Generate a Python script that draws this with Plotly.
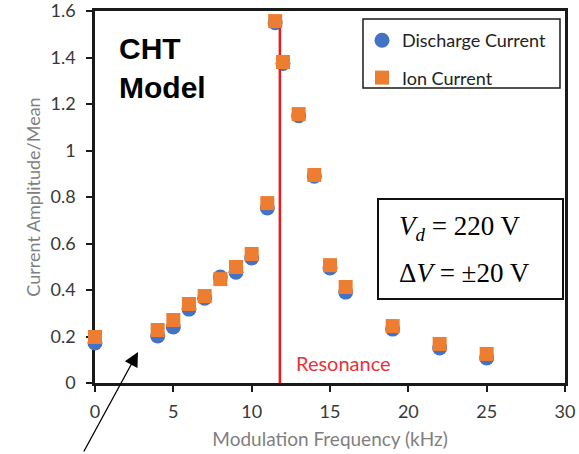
import plotly.graph_objects as go

# Data
freq_khz = [0, 4, 5, 6, 7, 8, 9, 10, 11, 11.5, 12, 13, 14, 15, 16, 19, 22, 25]
discharge_current = [0.172, 0.202, 0.241, 0.318, 0.365, 0.456, 0.477, 0.538, 0.753,
                     1.55, 1.375, 1.15, 0.89, 0.495, 0.391, 0.232, 0.151, 0.108]
ion_current = [0.198, 0.228, 0.271, 0.34, 0.374, 0.447, 0.499, 0.555, 0.774,
               1.557, 1.381, 1.157, 0.895, 0.507, 0.413, 0.245, 0.168, 0.125]
resonance_khz = 11.8
resonance_top = 1.56
x_ticks = [0, 5, 10, 15, 20, 25, 30]
y_ticks = [0, 0.2, 0.4, 0.6, 0.8, 1.0, 1.2, 1.4, 1.6]
y_tick_labels = ["0", "0.2", "0.4", "0.6", "0.8", "1", "1.2", "1.4", "1.6"]

W, H = 579, 454
L, R, T, B = 95, 14, 11, 71
PW, PH = W - L - R, H - T - B

def px(xp):
    return (xp - L) / PW

def py(yp):
    return (H - B - yp) / PH

fig = go.Figure()
fig.add_trace(go.Scatter(
    x=freq_khz, y=discharge_current, mode="markers", name="Discharge Current",
    marker=dict(symbol="circle", size=15, color="#4472C4"),
    cliponaxis=False, legendgroup="a"))
fig.add_trace(go.Scatter(
    x=[resonance_khz, resonance_khz], y=[0, resonance_top], mode="lines",
    line=dict(color="#F01818", width=2.5), showlegend=False, cliponaxis=False))
fig.add_trace(go.Scatter(
    x=freq_khz, y=ion_current, mode="markers", name="Ion Current",
    marker=dict(symbol="square", size=14, color="#ED7D31"),
    cliponaxis=False, legendgroup="b"))

axis_common = dict(showline=True, linecolor="#1a1a1a", linewidth=2.5, mirror=True,
                   ticks="outside", ticklen=6, tickwidth=2, tickcolor="#1a1a1a",
                   showgrid=False, zeroline=False, layer="below traces",
                   automargin=False, ticklabeloverflow="allow",
                   tickfont=dict(family="Lato", size=18, color="#383838"))

fig.update_layout(
    width=W, height=H,
    margin=dict(l=L, r=R, t=T, b=B),
    paper_bgcolor="white", plot_bgcolor="white",
    xaxis=dict(range=[0, 30], tickvals=x_ticks, ticklabelstandoff=5, **axis_common,
               title=dict(text="Modulation Frequency (kHz)", standoff=12,
                          font=dict(family="Lato", size=19, color="#7f7f7f"))),
    yaxis=dict(range=[0, 1.6005], tickvals=y_ticks, ticktext=y_tick_labels,
               ticklabelstandoff=7, **axis_common,
               title=dict(text="Current Amplitude/Mean", standoff=6,
                          font=dict(family="Lato", size=18, color="#7f7f7f"))),
    legend=dict(x=px(362), y=py(22), xanchor="left", yanchor="top",
                bgcolor="rgba(0,0,0,0)", borderwidth=0,
                traceorder="grouped", tracegroupgap=11,
                font=dict(family="Lato", size=18, color="#222222"),
                itemwidth=30),
    showlegend=True,
)

# legend box
fig.add_shape(type="rect", xref="paper", yref="paper",
              x0=px(363), x1=px(560), y0=py(88), y1=py(19),
              line=dict(color="#1a1a1a", width=1.5), fillcolor="rgba(0,0,0,0)")
# text box
fig.add_shape(type="rect", xref="paper", yref="paper",
              x0=px(378), x1=px(563), y0=py(299), y1=py(199),
              line=dict(color="#111111", width=2), fillcolor="white", layer="below")

fig.add_annotation(xref="paper", yref="paper", x=px(397), y=py(228),
                   xanchor="left", yanchor="middle", showarrow=False,
                   text="<i>V</i><sub><i>d</i></sub> = 220 V",
                   font=dict(family="Liberation Serif", size=27, color="black"))
fig.add_annotation(xref="paper", yref="paper", x=px(397), y=py(273),
                   xanchor="left", yanchor="middle", showarrow=False,
                   text="Δ<i>V</i> = ±20 V",
                   font=dict(family="Liberation Serif", size=27, color="black"))

fig.add_annotation(xref="paper", yref="paper", x=px(117), y=py(30),
                   xanchor="left", yanchor="top", showarrow=False, align="left",
                   text="<b>CHT<br>Model</b>",
                   font=dict(family="Liberation Sans", size=30, color="black"))

fig.add_annotation(xref="paper", yref="paper", x=px(294), y=py(363),
                   xanchor="left", yanchor="middle", showarrow=False, text="Resonance",
                   font=dict(family="Lato", size=20, color="#E8323A"))

# arrow
fig.add_annotation(x=(138 - L) / (PW / 30), y=(H - B - 352) / (PH / 1.6005),
                   ax=83 - 138, ay=453 - 352,
                   axref="pixel", ayref="pixel", text="", showarrow=True,
                   arrowhead=2, arrowsize=2.2, arrowwidth=1.3, arrowcolor="black")

fig.write_html("out.html", config={"displayModeBar": False},
               post_script="document.body.style.margin='0';document.body.style.overflow='hidden';")
